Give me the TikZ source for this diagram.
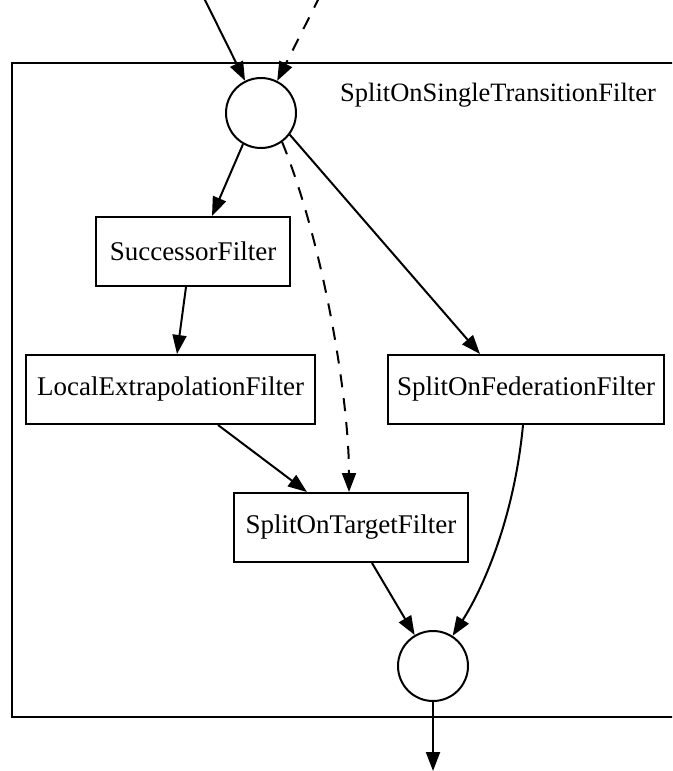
\documentclass[tikz,border=0pt]{standalone}
\usepackage{fontspec}
\setmainfont{Liberation Serif}
\usetikzlibrary{arrows.meta,calc}
\tikzset{
  every picture/.style={line width=2pt},
  filterbox/.style={draw, rectangle, minimum height=69pt, inner sep=0pt,
    font=\fontsize{27}{32}\selectfont},
  joint/.style={draw, circle, minimum size=70pt, inner sep=0pt},
  flow/.style={-{Triangle[length=19pt,width=14pt]}},
  dashflow/.style={flow, dash pattern=on 13pt off 11pt},
}
\begin{document}
\begin{tikzpicture}[x=1pt,y=-1pt]
  \useasboundingbox (0,0) rectangle (672,771);
  \clip (0,0) rectangle (672,771);
  \fill[white] (0,0) rectangle (672,771);

  % cluster frame
  \draw (12,63) rectangle (690,717);
  \node[anchor=base, font=\fontsize{26.5}{32}\selectfont] (title) at (498,101)
    {SplitOnSingleTransitionFilter};

  % nodes
  \node[joint] (top) at (261,113) {};
  \node[joint] (bot) at (433,666) {};
  \node[filterbox, minimum width=194pt] (succ) at (193,251.5) {SuccessorFilter};
  \node[filterbox, minimum width=289pt] (lef) at (170.5,389.5) {LocalExtrapolationFilter};
  \node[filterbox, minimum width=276pt] (fed) at (526,389.5) {SplitOnFederationFilter};
  \node[filterbox, minimum width=234pt] (tgt) at (351,527.5) {SplitOnTargetFilter};

  \coordinate (in1) at (203,-4);
  \coordinate (in2) at (320,-4);
  \coordinate (out) at (433,771);

  % connectors
  \draw[flow] (in1) -- (top);
  \draw[dashflow] (in2) -- (top);
  \draw[flow] (top.240) -- ($(succ.north)+(19,0)$);
  \draw[flow] ($(succ.south)+(-7,0)$) -- ($(lef.north)+(6.5,0)$);
  \draw[flow] ($(lef.south)+(47.5,0)$) -- ($(tgt.north)+(-44,0)$);
  \draw[dashflow] (top.306) .. controls (324,245) and (349,400) .. ($(tgt.north)+(-2,0)$);
  \draw[flow] (top.323) -- ($(fed.north)+(-46,0)$);
  \draw[flow] ($(tgt.south)+(21,0)$) -- (bot);
  \draw[flow] ($(fed.south)+(-3,0)$) .. controls (514,520) and (482,590) .. (bot.57);
  \draw[flow] (bot.south) -- (out);
\end{tikzpicture}
\end{document}
